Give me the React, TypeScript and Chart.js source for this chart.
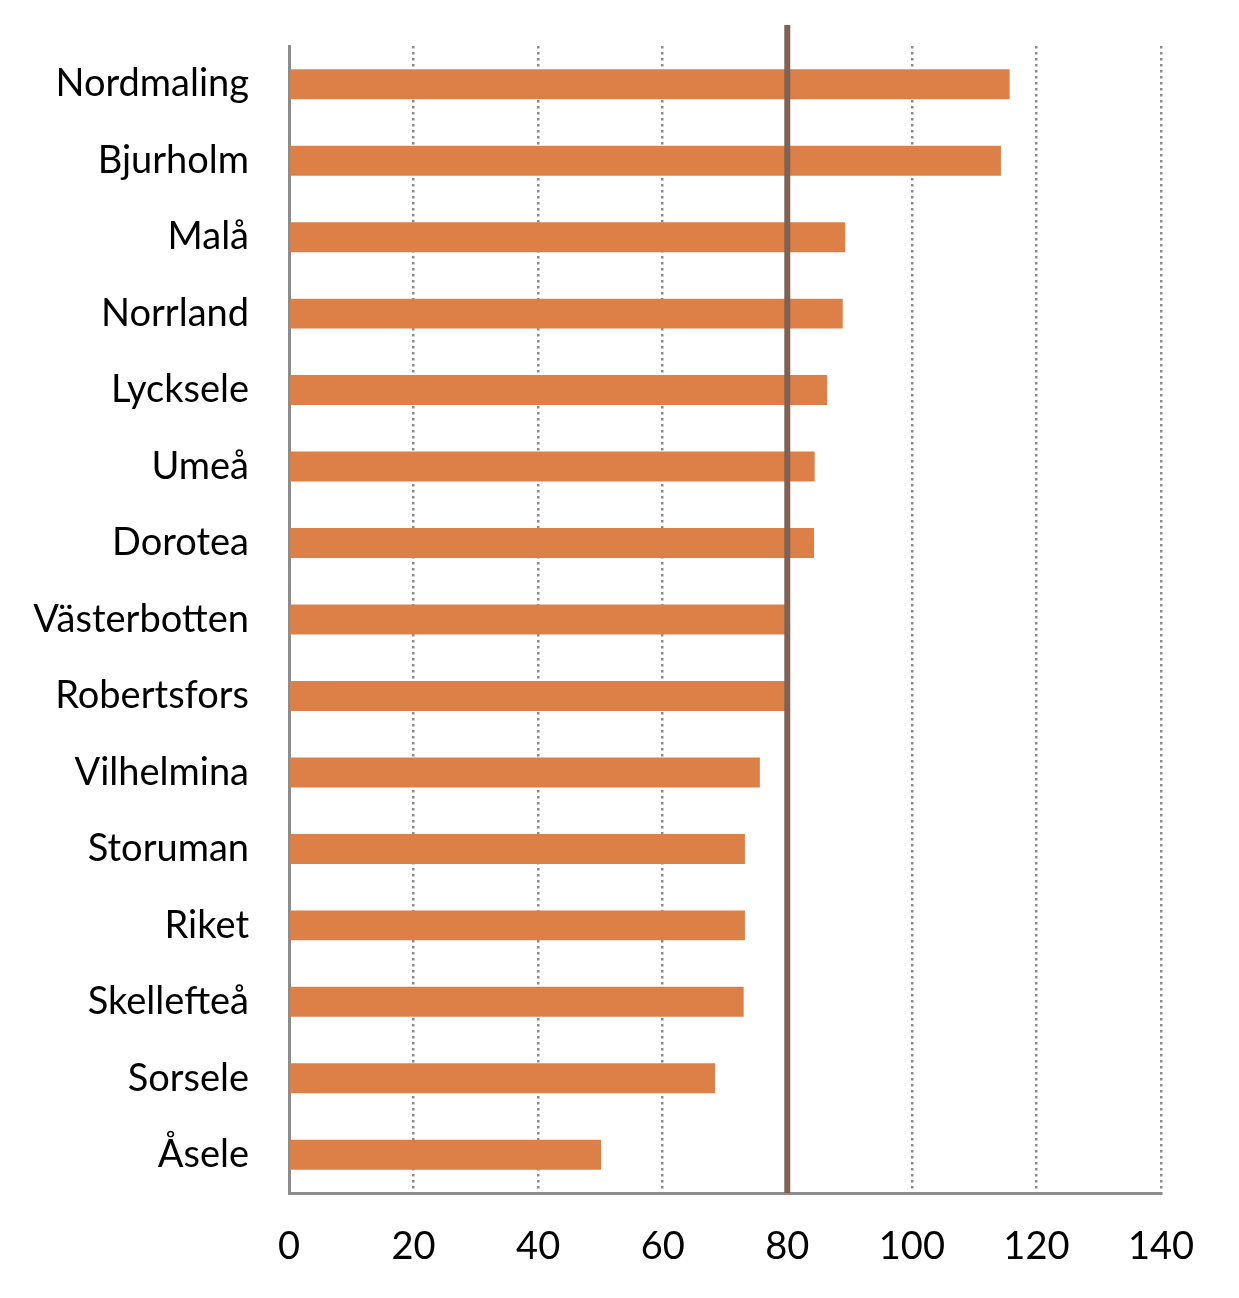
import React, { useEffect, useRef } from "react";
import { Chart, registerables } from "chart.js";

Chart.register(...registerables);

const categories = [
  "Nordmaling",
  "Bjurholm",
  "Malå",
  "Norrland",
  "Lycksele",
  "Umeå",
  "Dorotea",
  "Västerbotten",
  "Robertsfors",
  "Vilhelmina",
  "Storuman",
  "Riket",
  "Skellefteå",
  "Sorsele",
  "Åsele",
];

const values = [115.7, 114.3, 89.3, 88.9, 86.4, 84.4, 84.3, 79.8, 79.8, 75.6, 73.2, 73.2, 73.0, 68.4, 50.1];

const xMin = 0;
const xMax = 140;
const xStep = 20;
const referenceValue = 80;

const FONT = "Lato, 'Open Sans', sans-serif";

const refLinePlugin = {
  id: "refLine",
  afterDatasetsDraw(chart: any) {
    const { ctx, chartArea, scales } = chart;
    const x = scales.x.getPixelForValue(referenceValue);
    ctx.save();
    ctx.beginPath();
    ctx.strokeStyle = "#7f6253";
    ctx.lineWidth = 6;
    ctx.moveTo(x, chartArea.top - 21);
    ctx.lineTo(x, chartArea.bottom);
    ctx.stroke();
    ctx.restore();
  },
};

export default function App() {
  const canvasRef = useRef<HTMLCanvasElement | null>(null);

  useEffect(() => {
    if (!canvasRef.current) return;
    const chart = new Chart(canvasRef.current, {
      type: "bar",
      data: {
        labels: categories,
        datasets: [
          {
            data: values,
            backgroundColor: "#dd8047",
            borderWidth: 0,
            categoryPercentage: 1,
            barPercentage: 0.392,
          },
        ],
      },
      options: {
        indexAxis: "y",
        animation: false,
        responsive: false,
        maintainAspectRatio: false,
        layout: { padding: { top: 46, right: 78, left: 0, bottom: 0 } },
        plugins: {
          legend: { display: false },
          tooltip: { enabled: false },
        },
        scales: {
          x: {
            min: xMin,
            max: xMax,
            ticks: {
              stepSize: xStep,
              color: "#000",
              font: { family: FONT, size: 38 },
              padding: 31,
            },
            grid: {
              color: "#8c8c8c",
              lineWidth: 2.5,
              drawTicks: false,
            },
            border: { display: true, color: "#8c8c8c", width: 3, dash: [2.5, 3.5] },
            afterFit: (scale: any) => {
              scale.height = 105;
              scale.paddingLeft = 0;
              scale.paddingRight = 0;
            },
          },
          y: {
            ticks: {
              color: "#000",
              font: { family: FONT, size: 38 },
              padding: 40,
            },
            grid: { display: false, drawTicks: false },
            border: { display: true, color: "#8c8c8c", width: 3 },
            afterFit: (scale: any) => {
              scale.width = 289;
              scale.paddingTop = 0;
              scale.paddingBottom = 0;
            },
          },
        },
      },
      plugins: [refLinePlugin],
    });
    return () => chart.destroy();
  }, []);

  return (
    <div style={{ position: "absolute", left: 0, top: 0, width: 1239, height: 1298, background: "#fff" }}>
      <canvas ref={canvasRef} width={1239} height={1298} style={{ width: 1239, height: 1298 }} />
    </div>
  );
}
